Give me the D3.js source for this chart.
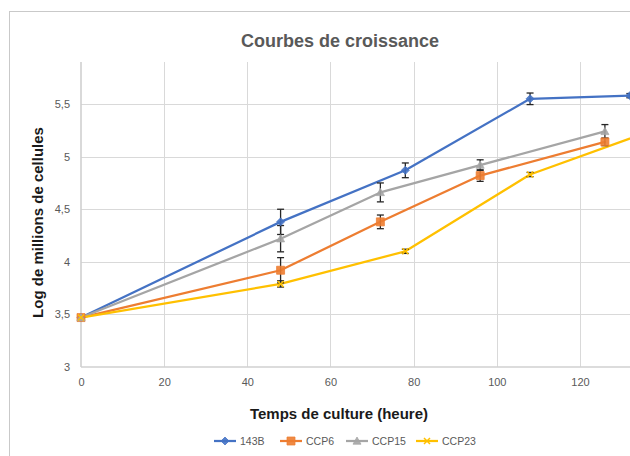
<!DOCTYPE html>
<html>
<head>
<meta charset="utf-8">
<script src="https://cdnjs.cloudflare.com/ajax/libs/d3/7.8.5/d3.min.js"></script>
<style>
  html, body { margin: 0; padding: 0; background: #fff; overflow: hidden; }
  svg { display: block; font-family: "Liberation Sans", Arial, Helvetica, sans-serif; }
</style>
</head>
<body>
<svg id="chart" width="630" height="456"></svg>
<script>
// Growth curves: log of millions of cells versus culture time (hours)
const seriesNames = ["143B", "CCP6", "CCP15", "CCP23"];
const seriesColors = ["#4472C4", "#ED7D31", "#A5A5A5", "#FFC000"];
const seriesMarkers = ["diamond", "square", "triangle", "cross"];

const hours143B  = [0, 48, 78, 108, 132];
const values143B = [3.47, 4.38, 4.87, 5.55, 5.58];
const errors143B = [0, 0.12, 0.07, 0.055, 0.02];

const hoursCCP6  = [0, 48, 72, 96, 126];
const valuesCCP6 = [3.47, 3.92, 4.38, 4.82, 5.14];
const errorsCCP6 = [0, 0.12, 0.065, 0.055, 0.035];

const hoursCCP15  = [0, 48, 72, 96, 126];
const valuesCCP15 = [3.47, 4.22, 4.66, 4.92, 5.24];
const errorsCCP15 = [0, 0.125, 0.09, 0.05, 0.065];

const hoursCCP23  = [0, 48, 78, 108, 134];
const valuesCCP23 = [3.47, 3.79, 4.10, 4.83, 5.20];
const errorsCCP23 = [0, 0.03, 0.02, 0.02, 0];

const xTicks = [0, 20, 40, 60, 80, 100, 120];
const yTicks = [3, 3.5, 4, 4.5, 5, 5.5];

const chartTitle = "Courbes de croissance";
const xTitle = "Temps de culture (heure)";
const yTitle = "Log de millions de cellules";

const seriesData = [
  { hours: hours143B, values: values143B, errors: errors143B },
  { hours: hoursCCP6, values: valuesCCP6, errors: errorsCCP6 },
  { hours: hoursCCP15, values: valuesCCP15, errors: errorsCCP15 },
  { hours: hoursCCP23, values: valuesCCP23, errors: errorsCCP23 }
].map((s, i) => ({
  name: seriesNames[i],
  color: seriesColors[i],
  marker: seriesMarkers[i],
  points: s.hours.map((h, j) => ({ x: h, y: s.values[j], e: s.errors[j] }))
}));

const svg = d3.select("#chart");

// outer chart frame (extends past the right and bottom edges)
svg.append("rect")
  .attr("x", 9.5).attr("y", 11.5)
  .attr("width", 662).attr("height", 470)
  .attr("fill", "#fff").attr("stroke", "#c9c9c9").attr("stroke-width", 1);

const plot = { left: 81, top: 62, bottom: 367 };
const x = d3.scaleLinear().domain([0, 140]).range([plot.left, plot.left + 140 * 4.158]);
const y = d3.scaleLinear().domain([3, 5.9]).range([plot.bottom, plot.top]);

const fmt = v => String(v).replace(".", ",");

// gridlines
const grid = svg.append("g");
grid.selectAll(".hg").data(yTicks.filter(t => t > 3)).join("line")
  .attr("x1", x(0)).attr("x2", x(140))
  .attr("y1", d => Math.round(y(d)) + 0.5).attr("y2", d => Math.round(y(d)) + 0.5)
  .attr("stroke", "#d9d9d9").attr("stroke-width", 1);
grid.selectAll(".vg").data(xTicks.filter(t => t > 0)).join("line")
  .attr("x1", d => Math.round(x(d)) + 0.5).attr("x2", d => Math.round(x(d)) + 0.5)
  .attr("y1", plot.top).attr("y2", plot.bottom)
  .attr("stroke", "#d9d9d9").attr("stroke-width", 1);

// axes
const yAxis = d3.axisLeft(y).tickValues(yTicks).tickFormat(fmt).tickSize(0).tickPadding(11);
const gy = svg.append("g").attr("transform", `translate(${plot.left},0)`).call(yAxis);
gy.select(".domain").attr("stroke", "#d0d0d0").attr("stroke-width", 1.6)
  .attr("d", `M0,${plot.top}V${plot.bottom}`);
gy.selectAll("text").attr("fill", "#595959").attr("font-size", 11)
  .attr("font-family", "Liberation Sans, Arial, sans-serif");

const xAxis = d3.axisBottom(x).tickValues(xTicks).tickFormat(fmt).tickSize(0).tickPadding(11);
const gx = svg.append("g").attr("transform", `translate(0,${plot.bottom})`).call(xAxis);
gx.select(".domain").attr("stroke", "#d0d0d0").attr("stroke-width", 1.6)
  .attr("d", `M${plot.left},0H${x(140)}`);
gx.selectAll("text").attr("fill", "#595959").attr("font-size", 11)
  .attr("font-family", "Liberation Sans, Arial, sans-serif");

// marker shapes
function markerPath(type, size) {
  const s = size / 2;
  if (type === "diamond") return `M0,${-s}L${s},0L0,${s}L${-s},0Z`;
  if (type === "square") return `M${-s},${-s}H${s}V${s}H${-s}Z`;
  if (type === "triangle") return `M0,${-s}L${s},${s * 0.8}L${-s},${s * 0.8}Z`;
  return `M${-s},${-s}L${s},${s}M${s},${-s}L${-s},${s}`;
}
function drawMarker(g, type, color, size) {
  const p = g.append("path").attr("d", markerPath(type, size));
  if (type === "cross") p.attr("fill", "none").attr("stroke", color).attr("stroke-width", 1.5);
  else p.attr("fill", color).attr("stroke", color).attr("stroke-width", 0.75).attr("fill-opacity", 0.9);
}

const line = d3.line().x(d => x(d.x)).y(d => y(d.y));

// series lines
const linesG = svg.append("g");
seriesData.forEach(s => {
  linesG.append("path").datum(s.points)
    .attr("d", line).attr("fill", "none")
    .attr("stroke", s.color).attr("stroke-width", 2.25)
    .attr("stroke-linejoin", "round").attr("stroke-linecap", "round");
});

// error bars
const errG = svg.append("g").attr("stroke", "#262626").attr("stroke-width", 1.3);
seriesData.forEach(s => {
  s.points.filter(p => p.e > 0).forEach(p => {
    const cx = x(p.x), y1 = y(p.y + p.e), y2 = y(p.y - p.e);
    errG.append("line").attr("x1", cx).attr("x2", cx).attr("y1", y1).attr("y2", y2);
    errG.append("line").attr("x1", cx - 3.5).attr("x2", cx + 3.5).attr("y1", y1).attr("y2", y1);
    errG.append("line").attr("x1", cx - 3.5).attr("x2", cx + 3.5).attr("y1", y2).attr("y2", y2);
  });
});

// markers
const markG = svg.append("g");
seriesData.forEach(s => {
  s.points.forEach(p => {
    const g = markG.append("g").attr("transform", `translate(${x(p.x)},${y(p.y)})`);
    drawMarker(g, s.marker, s.color, s.marker === "cross" ? 6 : 8);
  });
});

// titles
svg.append("text").attr("x", 340).attr("y", 47).attr("text-anchor", "middle")
  .attr("font-size", 18).attr("font-weight", "bold").attr("fill", "#595959")
  .text(chartTitle);

svg.append("text").attr("x", 339).attr("y", 419).attr("text-anchor", "middle")
  .attr("font-size", 15).attr("font-weight", "bold").attr("fill", "#1a1a1a")
  .text(xTitle);

svg.append("text")
  .attr("transform", `translate(43,${(plot.top + plot.bottom) / 2 + 8}) rotate(-90)`)
  .attr("text-anchor", "middle")
  .attr("font-size", 15).attr("font-weight", "bold").attr("fill", "#1a1a1a")
  .text(yTitle);

// legend
const legendX = [214, 280, 346, 416];
const legend = svg.append("g");
seriesData.forEach((s, i) => {
  const g = legend.append("g").attr("transform", `translate(${legendX[i]},441)`);
  g.append("line").attr("x1", 0).attr("x2", 22).attr("y1", 0).attr("y2", 0)
    .attr("stroke", s.color).attr("stroke-width", 2.25);
  const m = g.append("g").attr("transform", "translate(11,0)");
  drawMarker(m, s.marker, s.color, s.marker === "cross" ? 6 : 8);
  g.append("text").attr("x", 26).attr("y", 4).attr("font-size", 10.5)
    .attr("fill", "#595959").text(s.name);
});
</script>
</body>
</html>
